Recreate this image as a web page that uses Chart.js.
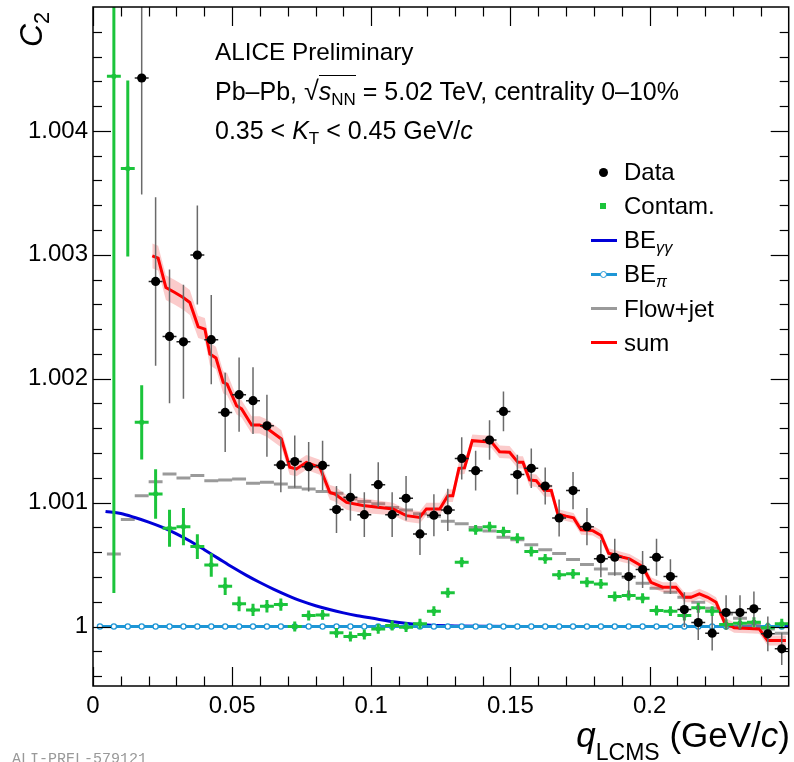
<!DOCTYPE html>
<html>
<head>
<meta charset="utf-8">
<script src="https://cdn.jsdelivr.net/npm/chart.js@4/dist/chart.umd.min.js"></script>
<style>
html,body{margin:0;padding:0;background:#fff;overflow:hidden;}
#wrap{position:relative;width:794px;height:762px;overflow:hidden;}
#c{position:absolute;left:0;top:0;}
.t{position:absolute;font-family:'Liberation Sans',Arial,sans-serif;font-size:24px;line-height:24px;white-space:nowrap;color:#000;}
.sb{position:relative;top:0.3em;font-size:0.68em;line-height:0;}
.sym{position:absolute;}
</style>
</head>
<body>
<div id="wrap">
<canvas id="c" width="794" height="762"></canvas>

<div class="t" style="left:215px;top:40px;font-size:24.3px">ALICE Preliminary</div>
<div class="t" style="left:215px;top:79px;font-size:25px">Pb–Pb, <span style="font-size:27px">√</span><span style="border-top:1.5px solid #000;padding-top:1px"><i>s</i><span class="sb">NN</span></span> = 5.02 TeV, centrality 0–10%</div>
<div class="t" style="left:215px;top:118px;font-size:25px">0.35 &lt; <i>K</i><span class="sb">T</span> &lt; 0.45 GeV/<i>c</i></div>

<div class="t" style="left:624px;top:160px">Data</div>
<div class="t" style="left:624px;top:194px">Contam.</div>
<div class="t" style="left:624px;top:228px">BE<span class="sb" style="font-style:italic">γγ</span></div>
<div class="t" style="left:624px;top:262px">BE<span class="sb" style="font-style:italic">π</span></div>
<div class="t" style="left:624px;top:297px">Flow+jet</div>
<div class="t" style="left:624px;top:331px">sum</div>

<div class="sym" style="left:599px;top:168px;width:9px;height:9px;border-radius:50%;background:#000"></div>
<div class="sym" style="left:600px;top:203px;width:6px;height:6px;background:#1bc43b"></div>
<div class="sym" style="left:591px;top:239px;width:26px;height:3px;background:#0000d8"></div>
<div class="sym" style="left:591px;top:273px;width:26px;height:3px;background:#1e96d6"></div>
<div class="sym" style="left:600px;top:271px;width:5px;height:5px;border-radius:50%;background:#fff;border:1.5px solid #1e96d6"></div>
<div class="sym" style="left:591px;top:307px;width:26px;height:3px;background:#9a9a9a"></div>
<div class="sym" style="left:591px;top:341px;width:26px;height:3px;background:#ff0000"></div>

<div class="t" style="left:15px;top:47px;font-size:32px;line-height:32px;transform:rotate(-90deg);transform-origin:0 0"><i>C</i><span class="sb">2</span></div>

<div class="t" style="right:4px;top:717px;font-size:35px;line-height:35px"><i>q</i><span style="position:relative;top:13px;font-size:23px;line-height:0">LCMS</span> (GeV/<i>c</i>)</div>

<div class="t" style="left:12px;top:752px;font-family:'Liberation Mono',monospace;font-size:15px;line-height:15px;color:#999">ALI-PREL-579121</div>
</div>

<script>
// ---------------- data ----------------
const binHalfWidth = 0.0025;

const xTickValues = [0, 0.05, 0.1, 0.15, 0.2];
const xTickLabels = ['0', '0.05', '0.1', '0.15', '0.2'];
const yTickValues = [1.000, 1.001, 1.002, 1.003, 1.004];
const yTickLabels = ['1', '1.001', '1.002', '1.003', '1.004'];

const dataQ = [0.0175,0.0225,0.0275,0.0325,0.0375,0.0425,0.0475,0.0525,0.0575,0.0625,
  0.0675,0.0725,0.0775,0.0825,0.0875,0.0925,0.0975,0.1025,0.1075,0.1125,
  0.1175,0.1225,0.1275,0.1325,0.1375,0.1425,0.1475,0.1525,0.1575,0.1625,
  0.1675,0.1725,0.1775,0.1825,0.1875,0.1925,0.1975,0.2025,0.2075,0.2125,
  0.2175,0.2225,0.2275,0.2325,0.2375,0.2425,0.2475];
const dataVal = [1.004427,1.002785,1.002341,1.002298,1.002998,1.002315,1.001728,1.001871,1.001823,1.001620,
  1.001304,1.001331,1.001290,1.001300,1.000944,1.001043,1.000903,1.001145,1.000903,1.001035,
  1.000747,1.000898,1.000941,1.001357,1.001258,1.001505,1.001736,1.001226,1.001277,1.001134,
  1.000876,1.001097,1.000806,1.000548,1.000559,1.000403,1.000460,1.000559,1.000403,1.000137,
  1.000032,0.999946,1.000113,1.000113,1.000143,0.999941,0.999820];
const dataErr = [0.00094,0.00068,0.00054,0.00046,0.00040,0.00036,0.00032,0.00030,0.00027,0.00025,
  0.00022,0.00021,0.00020,0.00020,0.00019,0.00019,0.00018,0.00018,0.00018,0.00018,
  0.00017,0.00017,0.00017,0.00017,0.00016,0.00016,0.00016,0.00016,0.00016,0.00015,
  0.00015,0.00015,0.00015,0.00015,0.00015,0.00015,0.00015,0.00015,0.00014,0.00014,
  0.00014,0.00014,0.00014,0.00014,0.00014,0.00014,0.00013];

const contamQ = [0.0075,0.0125,0.0175,0.0225,0.0275,0.0325,0.0375,0.0425,0.0475,0.0525,
  0.0575,0.0625,0.0675,0.0725,0.0775,0.0825,0.0875,0.0925,0.0975,0.1025,
  0.1075,0.1125,0.1175,0.1225,0.1275,0.1325,0.1375,0.1425,0.1475,0.1525,
  0.1575,0.1625,0.1675,0.1725,0.1775,0.1825,0.1875,0.1925,0.1975,0.2025,
  0.2075,0.2125,0.2175,0.2225,0.2275,0.2325,0.2375,0.2425,0.2475];
const contamVal = [1.004441,1.003696,1.001648,1.001070,1.000793,1.000806,1.000645,1.000497,1.000325,1.000183,
  1.000134,1.000164,1.000177,1.000000,1.000089,1.000094,0.999949,0.999919,0.999935,0.999981,
  1.000008,0.999995,1.000022,1.000124,1.000272,1.000519,1.000780,1.000806,1.000766,1.000712,
  1.000605,1.000546,1.000417,1.000425,1.000357,1.000344,1.000242,1.000250,1.000228,1.000129,
  1.000124,1.000089,1.000151,1.000124,1.000016,1.000027,1.000035,0.999990,1.000022];
const contamErr = [0.00417,0.00071,0.00030,0.00020,0.00015,0.00015,0.00010,0.000095,0.00007,0.00006,
  0.00005,0.00005,0.00005,0.00004,0.00004,0.00004,0.00004,0.00004,0.00004,0.00004,
  0.00004,0.00004,0.00004,0.00004,0.00004,0.00004,0.00004,0.00004,0.00004,0.00004,
  0.00004,0.00004,0.00004,0.00004,0.00004,0.00004,0.00004,0.00004,0.00004,0.00004,
  0.00004,0.00004,0.00004,0.00004,0.00004,0.00004,0.00004,0.00004,0.00004];

const flowQ = contamQ;
const flowVal = [1.000586,1.000863,1.001056,1.001169,1.001231,1.001199,1.001218,1.001177,1.001183,1.001191,
  1.001156,1.001164,1.001151,1.001124,1.001110,1.001089,1.001075,1.001030,1.001010,1.000990,
  1.000960,1.000940,1.000910,1.000890,1.000850,1.000830,1.000800,1.000770,1.000720,1.000700,
  1.000660,1.000620,1.000590,1.000540,1.000500,1.000465,1.000425,1.000398,1.000349,1.000309,
  1.000277,1.000237,1.000196,1.000148,1.000102,1.000067,1.000022,0.999981,0.999946];

const beGGQ = [0.0045,0.01,0.015,0.02,0.025,0.03,0.035,0.04,0.045,0.05,0.055,0.06,0.065,0.07,0.075,
  0.08,0.085,0.09,0.095,0.1,0.11,0.12,0.13,0.14,0.16,0.18,0.2,0.22,0.25];
const beGGVal = [1.000928,1.000912,1.000880,1.000843,1.000800,1.000748,1.000688,1.000620,1.000550,1.000480,
  1.000415,1.000355,1.000300,1.000250,1.000205,1.000168,1.000137,1.000110,1.000087,1.000068,
  1.000032,1.000012,1.000005,1.000002,1.000001,1.0,1.0,1.0,1.0];

const bePiQ = [0.0025,0.0075,0.0125,0.0175,0.0225,0.0275,0.0325,0.0375,0.0425,0.0475,
  0.0525,0.0575,0.0625,0.0675,0.0725,0.0775,0.0825,0.0875,0.0925,0.0975,
  0.1025,0.1075,0.1125,0.1175,0.1225,0.1275,0.1325,0.1375,0.1425,0.1475,
  0.1525,0.1575,0.1625,0.1675,0.1725,0.1775,0.1825,0.1875,0.1925,0.1975,
  0.2025,0.2075,0.2125,0.2175,0.2225,0.2275,0.2325,0.2375,0.2425,0.2475];
const bePiVal = [1,1,1,1,1,1,1,1,1,1, 1,1,1,1,1,1,1,1,1,1, 1,1,1,1,1,1,1,1,1,1,
  1,1,1,1,1,1,1,1,1,1, 1,1,1,1,1,1,1,1,1,1];

const sumQ = [0.0213,0.0234,0.0262,0.0294,0.0324,0.0348,0.0378,0.0402,0.0420,0.0442,
  0.0468,0.0482,0.0516,0.0534,0.0570,0.0599,0.0624,0.0677,0.0707,0.0731,
  0.0767,0.0815,0.0851,0.0869,0.0911,0.0970,0.1078,0.1126,0.1174,0.1198,
  0.1246,0.1275,0.1293,0.1315,0.1335,0.1363,0.1413,0.1431,0.1461,0.1497,
  0.1527,0.1545,0.1569,0.1593,0.1622,0.1647,0.1670,0.1700,0.1727,0.1754,
  0.1796,0.1826,0.1853,0.1904,0.1928,0.1975,0.2005,0.2047,0.2095,0.2125,
  0.2149,0.2179,0.2209,0.2239,0.2269,0.2304,0.2394,0.2424,0.2490];
const sumVal = [1.002992,1.002973,1.002736,1.002696,1.002656,1.002615,1.002419,1.002401,1.002199,1.002167,
  1.001970,1.001957,1.001782,1.001756,1.001627,1.001627,1.001602,1.001514,1.001285,1.001272,
  1.001325,1.001285,1.001083,1.001070,1.001002,1.000976,1.000949,1.000895,1.000881,1.000949,
  1.000949,1.001056,1.001056,1.001277,1.001280,1.001500,1.001492,1.001492,1.001411,1.001406,
  1.001325,1.001325,1.001183,1.001177,1.001097,1.001097,1.000909,1.000891,1.000877,1.000780,
  1.000774,1.000734,1.000591,1.000559,1.000546,1.000484,1.000357,1.000317,1.000317,1.000236,
  1.000236,1.000264,1.000236,1.000196,1.000035,0.999990,0.999981,0.999887,0.999887];
const sumErr = [0.00010,0.00010,0.00010,0.00010,0.00010,0.00010,0.00009,0.00009,0.00009,0.00009,
  0.00009,0.00009,0.00007,0.00007,0.00007,0.00007,0.00007,0.00007,0.00006,0.00006,
  0.00006,0.00006,0.00006,0.00006,0.00006,0.00006,0.00005,0.00005,0.00005,0.00005,
  0.00005,0.00005,0.00005,0.00005,0.00005,0.00005,0.00005,0.00005,0.00005,0.00005,
  0.00005,0.00005,0.00005,0.00005,0.00005,0.00005,0.00004,0.00004,0.00004,0.00004,
  0.00004,0.00004,0.00004,0.00004,0.00004,0.00004,0.00004,0.00004,0.00004,0.00004,
  0.00004,0.00004,0.00004,0.00004,0.00004,0.00004,0.00004,0.00004,0.00004];

// ---------------- styles ----------------
const FONT = "'Liberation Sans', Arial, sans-serif";
const pts = (qs, vs) => qs.map((q, i) => ({x: q, y: vs[i]}));

const flowSegments = [];
flowQ.forEach((q, i) => {
  flowSegments.push({x: q - binHalfWidth, y: flowVal[i]});
  flowSegments.push({x: q + binHalfWidth, y: flowVal[i]});
  flowSegments.push({x: q + binHalfWidth, y: null});
});

const errBars = {
  id: 'errBars',
  beforeDatasetDraw(chart, args) {
    const ds = chart.data.datasets[args.index];
    if (!ds.errY) return;
    const {ctx, chartArea: a, scales: {x, y}} = chart;
    ctx.save();
    ctx.beginPath();
    ctx.rect(a.left, a.top, a.right - a.left, a.bottom - a.top);
    ctx.clip();
    ctx.lineCap = 'butt';
    ds.data.forEach((p, i) => {
      const e = ds.errY[i];
      const px = x.getPixelForValue(p.x), py = y.getPixelForValue(p.y);
      ctx.strokeStyle = ds.errColorY; ctx.lineWidth = ds.errWidthY;
      ctx.beginPath();
      ctx.moveTo(px, y.getPixelForValue(p.y - e));
      ctx.lineTo(px, y.getPixelForValue(p.y + e));
      ctx.stroke();
      ctx.strokeStyle = ds.errColorX; ctx.lineWidth = ds.errWidthX;
      ctx.beginPath();
      ctx.moveTo(x.getPixelForValue(p.x - binHalfWidth), py);
      ctx.lineTo(x.getPixelForValue(p.x + binHalfWidth), py);
      ctx.stroke();
    });
    ctx.restore();
  }
};

const frameTicks = {
  id: 'frameTicks',
  afterDraw(chart) {
    const {ctx, chartArea: a, scales: {x, y}} = chart;
    ctx.save();
    ctx.strokeStyle = '#000';
    ctx.lineWidth = 1.2;
    const seg = (x1, y1, x2, y2) => { ctx.beginPath(); ctx.moveTo(x1, y1); ctx.lineTo(x2, y2); ctx.stroke(); };
    // x ticks (major every 0.05, minor every 0.01)
    for (let k = 0; k <= 24; k++) {
      const v = k * 0.01;
      const px = Math.round(x.getPixelForValue(v)) + 0.5;
      const len = (k % 5 === 0) ? 19 : 9.5;
      seg(px, a.bottom, px, a.bottom - len);
      seg(px, a.top, px, a.top + len);
    }
    // y ticks (major every 0.001, minor every 0.0002)
    for (let k = -2; k <= 24; k++) {
      const v = 1 + k * 0.0002;
      const py = Math.round(y.getPixelForValue(v)) + 0.5;
      const len = (k % 5 === 0) ? 18 : 9;
      seg(a.left, py, a.left + len, py);
      seg(a.right, py, a.right - len, py);
    }
    ctx.lineWidth = 1.5;
    ctx.strokeRect(a.left, a.top, a.right - a.left, a.bottom - a.top);
    ctx.restore();
  }
};

new Chart(document.getElementById('c'), {
  type: 'line',
  data: {
    datasets: [
      { label: 'Data', data: pts(dataQ, dataVal), showLine: false,
        pointRadius: 4.6, pointBackgroundColor: '#000', pointBorderWidth: 0, pointStyle: 'circle',
        errY: dataErr, errColorY: '#6a6a6a', errWidthY: 1.5, errColorX: '#222', errWidthX: 1.5 },
      { label: 'Contam.', data: pts(contamQ, contamVal), showLine: false,
        pointRadius: 3, pointStyle: 'rect', pointBackgroundColor: '#1bc43b', pointBorderWidth: 0,
        errY: contamErr, errColorY: '#1bc43b', errWidthY: 3, errColorX: '#1bc43b', errWidthX: 3 },
      { label: 'sum', data: pts(sumQ, sumVal), borderColor: '#ff0000', borderWidth: 3,
        pointRadius: 0, tension: 0, fill: false },
      { label: 'sumUp', data: pts(sumQ, sumVal.map((v, i) => v + sumErr[i])), borderWidth: 0,
        borderColor: 'rgba(0,0,0,0)', pointRadius: 0, tension: 0, fill: '+1', backgroundColor: 'rgba(240,70,70,0.28)' },
      { label: 'sumLo', data: pts(sumQ, sumVal.map((v, i) => v - sumErr[i])), borderWidth: 0,
        borderColor: 'rgba(0,0,0,0)', pointRadius: 0, tension: 0, fill: false },
      { label: 'BEpi', data: pts(bePiQ, bePiVal), borderColor: '#1e96d6', borderWidth: 3,
        pointRadius: 2.6, pointBackgroundColor: '#ffffff', pointBorderColor: '#1e96d6', pointBorderWidth: 1.3, tension: 0 },
      { label: 'BEgg', data: pts(beGGQ, beGGVal), borderColor: '#0000d8', borderWidth: 3,
        pointRadius: 0, cubicInterpolationMode: 'monotone' },
      { label: 'Flow+jet', data: flowSegments, borderColor: '#9a9a9a', borderWidth: 3,
        pointRadius: 0, spanGaps: false, tension: 0 }
    ]
  },
  options: {
    responsive: false,
    animation: false,
    layout: {padding: {left: 0, right: 4, top: 7, bottom: 0}},
    plugins: {legend: {display: false}, tooltip: {enabled: false}},
    scales: {
      x: {
        type: 'linear', min: 0, max: 0.25,
        grid: {display: false, drawTicks: false}, border: {display: false},
        afterBuildTicks: s => { s.ticks = xTickValues.map(v => ({value: v})); },
        afterFit: s => { s.height = 76; s.paddingLeft = 0; s.paddingRight = 0; },
        ticks: {autoSkip: false, maxRotation: 0, padding: 6, color: '#000',
          font: {family: FONT, size: 24},
          callback: (v, i) => xTickLabels[i]}
      },
      y: {
        type: 'linear', min: 0.99952, max: 1.005,
        grid: {display: false, drawTicks: false}, border: {display: false},
        afterBuildTicks: s => { s.ticks = yTickValues.map(v => ({value: v})); },
        afterFit: s => { s.width = 93; s.paddingTop = 0; s.paddingBottom = 0; },
        ticks: {autoSkip: false, padding: 5, color: '#000',
          font: {family: FONT, size: 24},
          callback: (v, i) => yTickLabels[i]}
      }
    }
  },
  plugins: [errBars, frameTicks]
});
</script>
</body>
</html>
